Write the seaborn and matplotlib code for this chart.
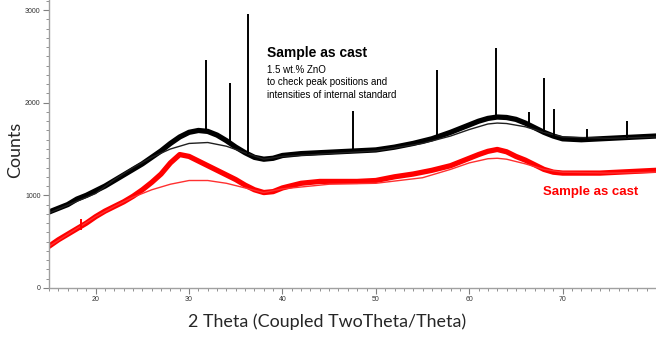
import matplotlib
matplotlib.use("Agg")
import matplotlib.pyplot as plt
import seaborn as sns
import pandas as pd
from matplotlib.ticker import MultipleLocator

# ---- data ----
two_theta = [15, 16, 17, 18, 19, 20, 21, 22, 23, 24, 25, 26, 27, 28, 29, 30, 31, 32, 33, 34,
             35, 36, 37, 38, 39, 40, 42, 44, 46, 48, 50, 52, 54, 56, 58, 60, 61, 62, 63, 64,
             65, 66, 67, 68, 69, 70, 72, 74, 76, 78, 80]
black_counts = [820, 860, 900, 960, 1000, 1050, 1100, 1160, 1220, 1280, 1340, 1410, 1480, 1560,
                1630, 1680, 1700, 1690, 1650, 1590, 1520, 1460, 1410, 1390, 1400, 1430, 1450,
                1460, 1470, 1480, 1490, 1520, 1560, 1610, 1680, 1760, 1800, 1830, 1845, 1840,
                1820, 1780, 1730, 1680, 1640, 1610, 1600, 1610, 1620, 1630, 1640]
red_counts = [450, 520, 580, 640, 700, 770, 830, 880, 930, 990, 1060, 1140, 1230, 1350, 1440,
              1420, 1370, 1320, 1270, 1220, 1170, 1110, 1060, 1030, 1040, 1080, 1130, 1150,
              1150, 1150, 1160, 1200, 1230, 1270, 1320, 1400, 1440, 1475, 1495, 1470, 1420,
              1380, 1330, 1280, 1250, 1240, 1240, 1240, 1250, 1260, 1270]

bg_theta = [15, 20, 22, 24, 26, 28, 30, 32, 34, 36, 38, 40, 45, 50, 55, 58, 60, 62, 63, 64,
            66, 68, 70, 75, 80]
black_bg = [810, 1020, 1170, 1300, 1410, 1500, 1560, 1570, 1530, 1460, 1390, 1420, 1450, 1480,
            1560, 1640, 1710, 1770, 1780, 1775, 1740, 1680, 1630, 1615, 1630]
red_bg = [450, 770, 880, 980, 1060, 1120, 1160, 1160, 1130, 1080, 1030, 1070, 1120, 1130,
          1190, 1280, 1350, 1395, 1400, 1390, 1340, 1280, 1250, 1240, 1250]

peak_pos = [31.8, 34.4, 36.3, 47.5, 56.6, 62.9, 66.4, 68.0, 69.1, 72.6, 76.9]
peak_top = [2460, 2210, 2955, 1910, 2350, 2590, 1900, 2265, 1930, 1720, 1800]
peak_base = [1700, 1590, 1450, 1480, 1630, 1850, 1780, 1680, 1640, 1600, 1620]

red_peak_pos = [18.4]
red_peak_top = [740]
red_peak_base = [630]

x_ticks = [20, 30, 40, 50, 60, 70]
y_ticks = [0, 1000, 2000, 3000]

title_text = "Sample as cast"
note_lines = ["1.5 wt.% ZnO", "to check peak positions and", "intensities of internal standard"]
note_baselines = [2319, 2190, 2050]

# ---- plot ----
sns.set_style("ticks")
plt.rcParams["font.family"] = ["Liberation Sans", "DejaVu Sans"]

fig = plt.figure(figsize=(6.56, 3.37), dpi=100)
ax = fig.add_axes([49 / 656, 49 / 337, 607 / 656, 288 / 337])

trace = pd.DataFrame({"theta": two_theta, "black": black_counts, "red": red_counts})
bg = pd.DataFrame({"theta": bg_theta, "black": black_bg, "red": red_bg})

sns.lineplot(data=trace, x="theta", y="red", ax=ax, color="#ff0000", linewidth=3.8)
sns.lineplot(data=bg, x="theta", y="red", ax=ax, color="#ff3030", linewidth=1.0)
sns.lineplot(data=trace, x="theta", y="black", ax=ax, color="black", linewidth=3.8)
sns.lineplot(data=bg, x="theta", y="black", ax=ax, color="#202020", linewidth=1.0)
ax.vlines(peak_pos, peak_base, peak_top, color="black", linewidth=1.4)
ax.vlines(red_peak_pos, red_peak_base, red_peak_top, color="#ff0000", linewidth=1.4)

ax.set_xlim(15, 80)
ax.set_ylim(0, 3108)
ax.set_xticks(x_ticks)
ax.set_yticks(y_ticks)
ax.xaxis.set_minor_locator(MultipleLocator(1))
ax.yaxis.set_minor_locator(MultipleLocator(100))
ax.tick_params(which="major", length=4, width=0.8, color="#808080", labelsize=5, pad=2,
               labelcolor="#333333")
ax.tick_params(which="minor", length=2, width=0.6, color="#808080")
for s in ["top", "right"]:
    ax.spines[s].set_visible(False)
for s in ["left", "bottom"]:
    ax.spines[s].set_color("#a0a0a0")
    ax.spines[s].set_linewidth(1.0)

ax.set_xlabel("2 Theta (Coupled TwoTheta/Theta)", fontsize=12.9, family=["Lato", "DejaVu Sans"])
ax.set_ylabel("Counts", fontsize=12.9, family=["Lato", "DejaVu Sans"])
ax.xaxis.set_label_coords(0.458, -0.087)
ax.yaxis.set_label_coords(-0.043, 0.479)

ax.text(38.3, 2492, title_text, fontsize=10, fontweight="bold", color="black",
        va="baseline", ha="left")
for line, yb in zip(note_lines, note_baselines):
    ax.text(38.3, yb, line, fontsize=7, color="black", va="baseline", ha="left")
ax.text(67.9, 1036, title_text, fontsize=9.5, fontweight="bold", color="#ff0000",
        va="center", ha="left")

fig.savefig("out.png", dpi=100)
